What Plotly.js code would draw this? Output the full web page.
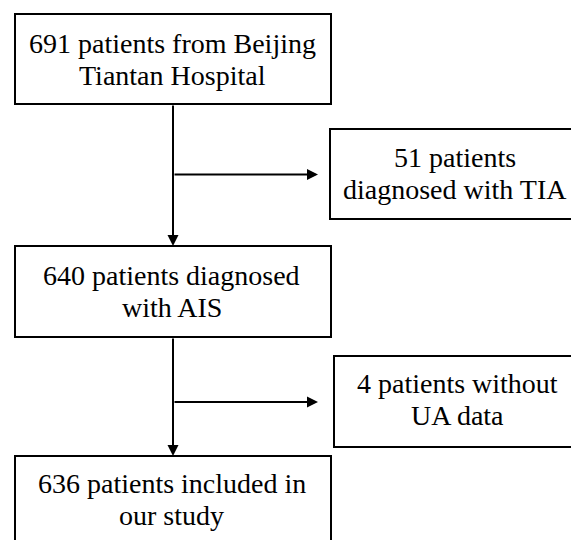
<!DOCTYPE html>
<html>
<head>
<meta charset="utf-8">
<script src="https://cdn.plot.ly/plotly-3.0.1.min.js"></script>
<style>
  html, body { margin: 0; padding: 0; background: #ffffff; }
  #chart { width: 571px; height: 540px; }
  #fontwarm { position: absolute; left: 0; top: 0; visibility: hidden; font-family: "Times New Roman"; font-size: 28px; }
</style>
</head>
<body>
<div id="chart"></div>
<script>
// ---- Data (flow of patients) ----
const stepCounts = [691, 51, 640, 4, 636];
const stepLines1 = ['patients from Beijing', 'patients', 'patients diagnosed', 'patients without', 'patients included in'];
const stepLines2 = ['Tiantan Hospital', 'diagnosed with TIA', 'with AIS', 'UA data', 'our study'];

// ---- Layout geometry (pixel-like units) ----
const W = 571, H = 540;
const boxes = [
  {x0: 15,  x1: 331, y0: 14,  y1: 104, tx: 172.5, ty1: 43.8,  ty2: 75.5},
  {x0: 330, x1: 590, y0: 129, y1: 219, tx: 454.5, ty1: 157.2, ty2: 189.5},
  {x0: 15,  x1: 331, y0: 246, y1: 337, tx: 171.5, ty1: 275.8, ty2: 307.5},
  {x0: 334, x1: 590, y0: 356, y1: 447, tx: 457,   ty1: 383.8, ty2: 415.5},
  {x0: 15,  x1: 331, y0: 456, y1: 560, tx: 171.5, ty1: 483.8, ty2: 515.5}
];

const shapes = boxes.map(b => ({
  type: 'rect', xref: 'x', yref: 'y',
  x0: b.x0, x1: b.x1, y0: b.y0, y1: b.y1,
  line: {color: '#000000', width: 2}, fillcolor: 'rgba(0,0,0,0)'
}));

const annotations = [];
boxes.forEach((b, i) => {
  annotations.push({
    xref: 'x', yref: 'y', x: b.tx, y: b.ty1,
    xanchor: 'center', yanchor: 'middle',
    text: stepCounts[i] + ' ' + stepLines1[i], showarrow: false,
    font: {family: 'Times New Roman', size: 28, color: '#000'}
  });
  annotations.push({
    xref: 'x', yref: 'y', x: b.tx, y: b.ty2,
    xanchor: 'center', yanchor: 'middle',
    text: stepLines2[i], showarrow: false,
    font: {family: 'Times New Roman', size: 28, color: '#000'}
  });
});

// arrows: [tail x, tail y, tip x, tip y]
const arrows = [
  [173, 104, 173, 246],
  [173, 174.5, 318, 174.5],
  [173, 337, 173, 456],
  [173, 402, 318, 402]
];
arrows.forEach(a => {
  annotations.push({
    xref: 'x', yref: 'y', axref: 'x', ayref: 'y',
    x: a[2], y: a[3], ax: a[0], ay: a[1],
    text: '', showarrow: true, arrowhead: 2, arrowsize: 1.1, arrowwidth: 2,
    arrowcolor: '#000000', standoff: 0, startstandoff: 0
  });
});

Plotly.newPlot('chart', [], {
  width: W, height: H,
  margin: {l: 0, r: 0, t: 0, b: 0},
  font: {family: 'Times New Roman'},
  xaxis: {range: [0, W], visible: false},
  yaxis: {range: [H, 0], visible: false},
  showlegend: false,
  shapes: shapes,
  annotations: annotations
}, {displayModeBar: false, staticPlot: true});
document.body.insertAdjacentHTML('beforeend', '<span id="fontwarm">Aa</span>');
</script>
</body>
</html>
